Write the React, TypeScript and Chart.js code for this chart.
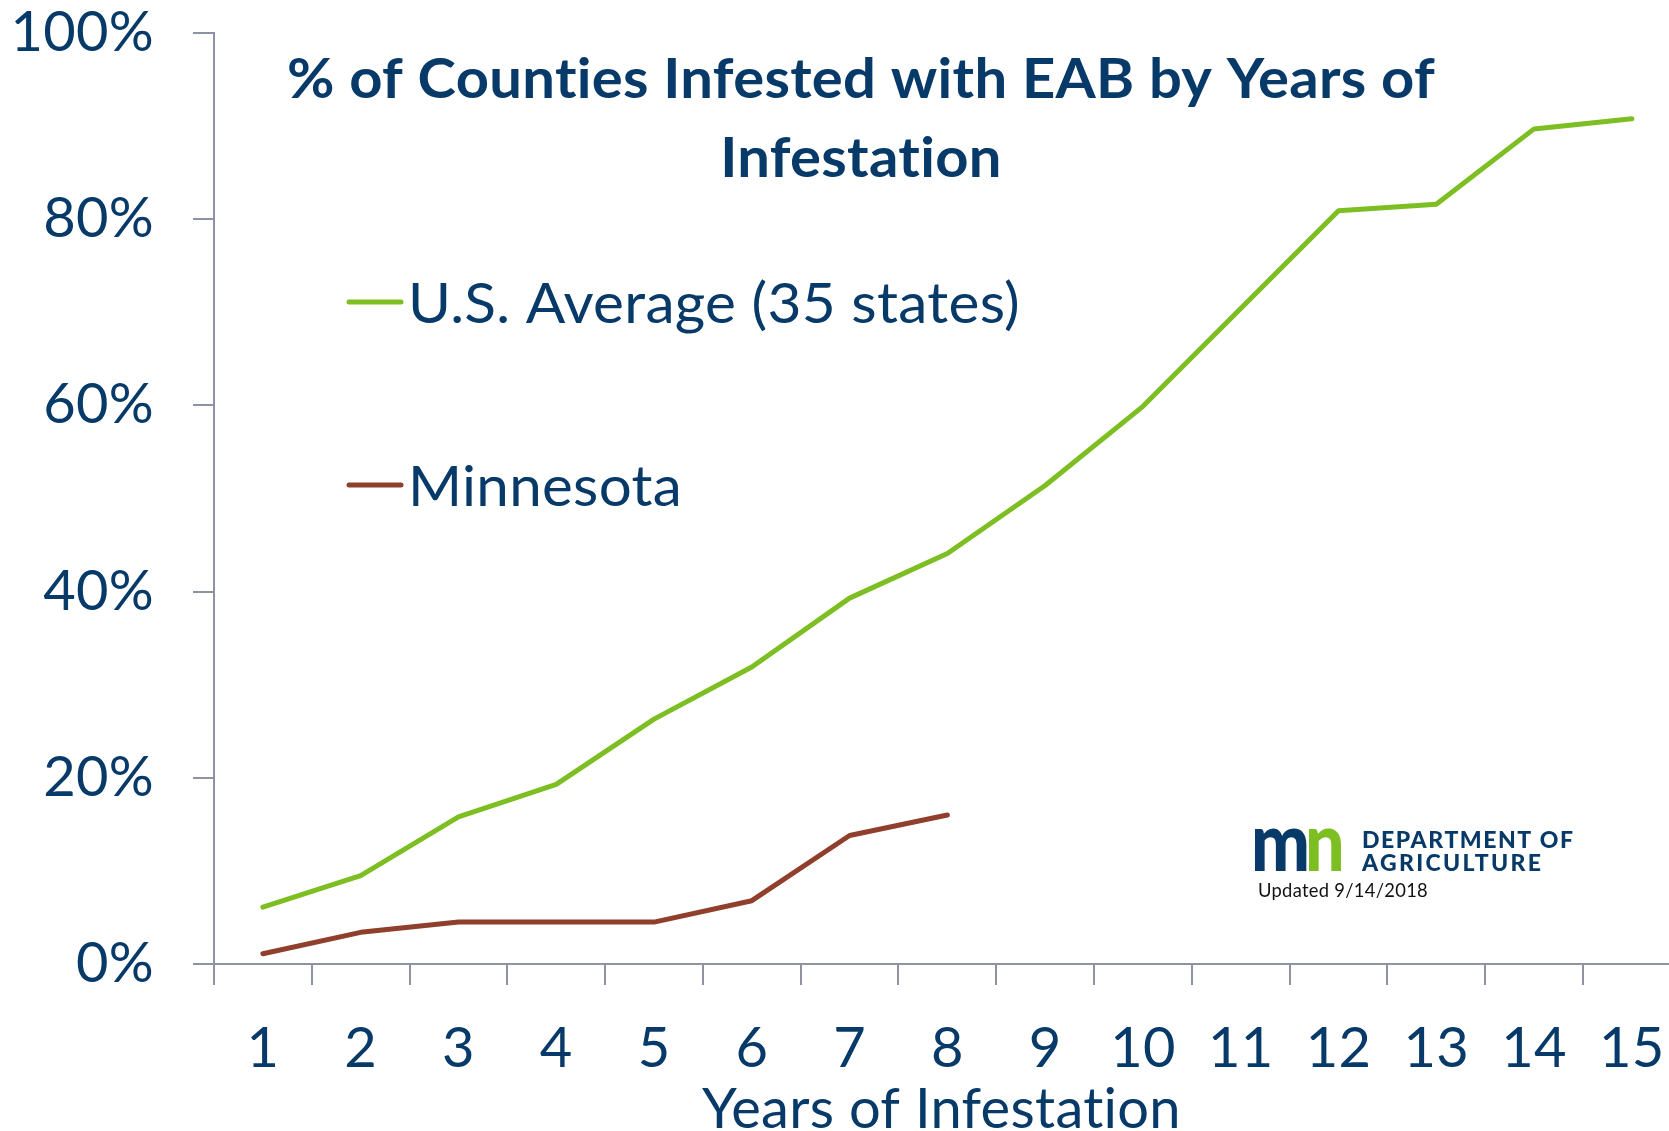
import React, { useEffect, useRef } from 'react';
import { Chart, registerables } from 'chart.js';

Chart.register(...registerables);

// ---- data ----
const years = [1, 2, 3, 4, 5, 6, 7, 8, 9, 10, 11, 12, 13, 14, 15];
const usAverage = [6.1, 9.5, 15.8, 19.3, 26.3, 31.9, 39.3, 44.1, 51.4, 59.9, 70.4, 80.9, 81.6, 89.7, 90.8];
const minnesota = [1.1, 3.4, 4.5, 4.5, 4.5, 6.8, 13.8, 16.0];
const yTickStep = 20;
const yMin = 0;
const yMax = 100;
const titleLines = ['% of Counties Infested with EAB by Years of', 'Infestation'];
const seriesLabels = ['U.S. Average (35 states)', 'Minnesota'];
const xAxisTitle = 'Years of Infestation';
const logoLines = ['DEPARTMENT OF', 'AGRICULTURE'];
const updatedNote = 'Updated 9/14/2018';

// ---- style ----
const NAVY = '#073A68';
const GREEN = '#7DBE22';
const BROWN = '#8F3F2B';
const AXIS = '#8D93A3';
const FONT = 'Lato, "Open Sans", sans-serif';
const X_MIN = 0.5;
const X_MAX = 15.38;

function fitScale(ctx: CanvasRenderingContext2D, text: string, target: number) {
  const w = ctx.measureText(text).width;
  return w > 0 ? target / w : 1;
}

// turn off the "ti" ligature of Lato by a tiny letter spacing
const noLigaturePlugin = {
  id: 'noLigature',
  beforeDraw(chart: any) {
    (chart.ctx as any).letterSpacing = '0.3px';
  },
};

const overlayPlugin = {
  id: 'overlay',
  afterDraw(chart: any) {
    const ctx: CanvasRenderingContext2D = chart.ctx;
    ctx.save();
    (ctx as any).letterSpacing = '0.3px';
    ctx.textBaseline = 'alphabetic';

    // Title (two lines, centered)
    ctx.font = `bold 55px ${FONT}`;
    ctx.fillStyle = NAVY;
    ctx.textAlign = 'center';
    const tScale = fitScale(ctx, titleLines[0], 1148);
    const titleBaselines = [98, 177];
    titleLines.forEach((line, i) => {
      ctx.save();
      ctx.translate(861, titleBaselines[i]);
      ctx.scale(tScale, 1);
      ctx.fillText(line, 0, 0);
      ctx.restore();
    });

    // Legend
    const legendY = [302, 485];
    const legendBase = [323, 506];
    const legendWidths = [612, 274];
    chart.data.datasets.forEach((ds: any, i: number) => {
      ctx.save();
      ctx.strokeStyle = ds.borderColor;
      ctx.lineWidth = 5;
      ctx.lineCap = 'round';
      ctx.beginPath();
      ctx.moveTo(349, legendY[i]);
      ctx.lineTo(401, legendY[i]);
      ctx.stroke();
      ctx.restore();

      ctx.save();
      ctx.font = `56px ${FONT}`;
      ctx.fillStyle = NAVY;
      ctx.textAlign = 'left';
      const s = fitScale(ctx, ds.label, legendWidths[i]);
      ctx.translate(408, legendBase[i]);
      ctx.scale(Math.min(Math.max(s, 0.85), 1.15), 1);
      ctx.fillText(ds.label, 0, 0);
      ctx.restore();
    });

    // Logo "mn"
    ctx.save();
    ctx.font = `900 82px ${FONT}`;
    ctx.textAlign = 'left';
    const mW = ctx.measureText('m').width;
    const nW = ctx.measureText('n').width;
    const ls = 94 / (mW + nW - 6);
    ctx.translate(1251, 871);
    ctx.scale(ls, 1);
    ctx.fillStyle = NAVY;
    ctx.fillText('m', 0, 0);
    ctx.fillStyle = GREEN;
    ctx.fillText('n', mW - 6, 0);
    ctx.restore();

    // Department text
    const deptTargets = [211, 179];
    const deptBase = [848, 871];
    logoLines.forEach((line, i) => {
      ctx.save();
      ctx.font = `900 23px ${FONT}`;
      ctx.fillStyle = NAVY;
      ctx.textAlign = 'left';
      (ctx as any).letterSpacing = '0px';
      const w0 = ctx.measureText(line).width;
      const spacing = (deptTargets[i] - w0) / (line.length - 1);
      (ctx as any).letterSpacing = `${spacing}px`;
      ctx.fillText(line, 1362, deptBase[i]);
      ctx.restore();
    });

    // Updated note
    ctx.save();
    ctx.font = `19px ${FONT}`;
    ctx.fillStyle = '#111111';
    ctx.textAlign = 'left';
    const us = fitScale(ctx, updatedNote, 170);
    ctx.translate(1258, 897);
    ctx.scale(Math.min(Math.max(us, 0.85), 1.15), 1);
    ctx.fillText(updatedNote, 0, 0);
    ctx.restore();

    ctx.restore();
  },
};

export default function App() {
  const canvasRef = useRef<HTMLCanvasElement | null>(null);

  useEffect(() => {
    const canvas = canvasRef.current;
    if (!canvas) return;
    Chart.defaults.font.family = FONT;

    const chart = new Chart(canvas, {
      type: 'line',
      data: {
        datasets: [
          {
            label: seriesLabels[0],
            data: years.map((x, i) => ({ x, y: usAverage[i] })),
            borderColor: GREEN,
            backgroundColor: GREEN,
            borderWidth: 5,
            pointRadius: 0,
            fill: false,
            tension: 0,
            borderCapStyle: 'round',
            borderJoinStyle: 'round',
          },
          {
            label: seriesLabels[1],
            data: minnesota.map((y, i) => ({ x: years[i], y })),
            borderColor: BROWN,
            backgroundColor: BROWN,
            borderWidth: 5,
            pointRadius: 0,
            fill: false,
            tension: 0,
            borderCapStyle: 'round',
            borderJoinStyle: 'round',
          },
        ],
      },
      options: {
        animation: false,
        responsive: false,
        maintainAspectRatio: false,
        devicePixelRatio: 1,
        layout: { padding: { top: 33, left: 0, right: 0, bottom: 0 } },
        plugins: {
          legend: { display: false },
          tooltip: { enabled: false },
          title: { display: false },
        },
        scales: {
          x: {
            type: 'linear',
            position: 'bottom',
            min: X_MIN,
            max: X_MAX,
            afterBuildTicks: (scale: any) => {
              const t: any[] = [];
              years.forEach((y) => {
                t.push({ value: y - 0.5 });
                t.push({ value: y });
              });
              scale.ticks = t;
            },
            afterFit: (scale: any) => {
              scale.height = 167;
              scale.paddingLeft = 0;
              scale.paddingRight = 0;
              scale.paddingTop = 0;
              scale.paddingBottom = 0;
            },
            border: { display: true, color: AXIS, width: 2 },
            grid: {
              drawOnChartArea: false,
              drawTicks: true,
              tickLength: 21,
              lineWidth: 2,
              tickColor: (c: any) =>
                c.tick && Number.isInteger(c.tick.value) ? 'rgba(0,0,0,0)' : AXIS,
            },
            ticks: {
              autoSkip: false,
              maxRotation: 0,
              minRotation: 0,
              padding: 36,
              color: NAVY,
              font: { size: 56, lineHeight: 1 },
              callback: (v: any) => (Number.isInteger(v) ? String(v) : ''),
            },
            title: {
              display: true,
              text: xAxisTitle,
              color: NAVY,
              font: { size: 56, lineHeight: 0.75 },
              padding: { top: 0, bottom: 0 },
            },
          },
          y: {
            type: 'linear',
            min: yMin,
            max: yMax,
            afterFit: (scale: any) => {
              scale.width = 214;
              scale.paddingTop = 0;
              scale.paddingBottom = 0;
              scale.paddingLeft = 0;
              scale.paddingRight = 0;
            },
            border: { display: true, color: AXIS, width: 2 },
            grid: {
              drawOnChartArea: false,
              drawTicks: true,
              tickLength: 21,
              lineWidth: 2,
              color: AXIS,
              tickColor: AXIS,
            },
            ticks: {
              stepSize: yTickStep,
              padding: 39,
              color: NAVY,
              font: { size: 56, lineHeight: 1 },
              callback: (v: any) => `${v}%`,
            },
          },
        },
      },
      plugins: [noLigaturePlugin, overlayPlugin],
    } as any);

    return () => {
      chart.destroy();
    };
  }, []);

  return (
    <div style={{ position: 'absolute', left: 0, top: 0, width: 1669, height: 1131, background: '#ffffff', overflow: 'hidden' }}>
      <canvas ref={canvasRef} width={1669} height={1131} style={{ display: 'block' }} />
    </div>
  );
}
